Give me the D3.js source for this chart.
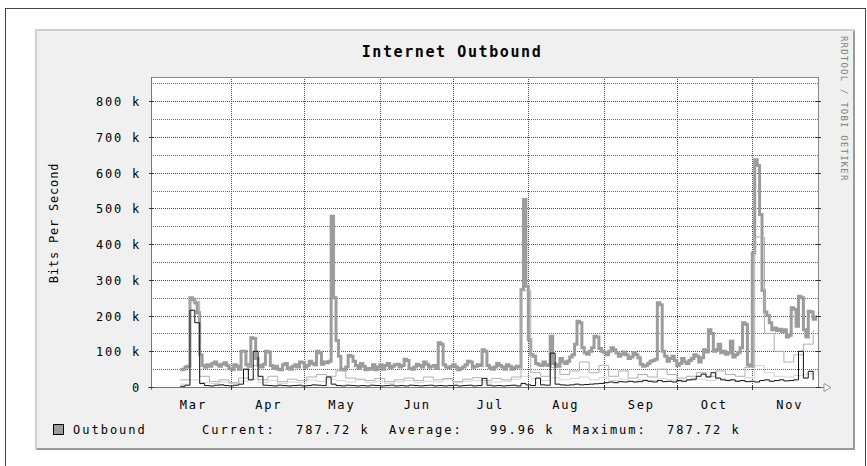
<!DOCTYPE html>
<html>
<head>
<meta charset="utf-8">
<script src="https://cdn.jsdelivr.net/npm/d3@7"></script>
<style>
  html, body { margin: 0; padding: 0; background: #fff; }
  svg { display: block; }
  text { font-family: "DejaVu Sans Mono", "Liberation Mono", monospace; fill: #000; }
</style>
</head>
<body>
<svg id="chart" width="867" height="466"></svg>
<script>
// ---- data (values in kbit/s) ----
const title = "Internet Outbound";
const yLabel = "Bits Per Second";
const months = ["Mar", "Apr", "May", "Jun", "Jul", "Aug", "Sep", "Oct", "Nov"];
const yTicks = [0, 100, 200, 300, 400, 500, 600, 700, 800];
const yTickLabels = ["0", "100 k", "200 k", "300 k", "400 k", "500 k", "600 k", "700 k", "800 k"];
const legendName = "Outbound";
const legendStats = ["Current:", "787.72 k", "Average:", "99.96 k", "Maximum:", "787.72 k"];

// first sample date; each series has its own spacing in days
const seriesStart = "2001-03-11";

// daily outbound rate
const outboundStep = 1;
const outbound = [
  48, 50, 56, 58, 250, 246, 235, 208, 90, 60,
  55, 62, 58, 66, 70, 62, 58, 64, 68, 60,
  52, 48, 62, 58, 50, 100, 100, 62, 58, 138,
  136, 80, 60, 56, 64, 100, 98, 60, 52, 58,
  50, 48, 62, 66, 54, 50, 58, 62, 56, 70,
  68, 55, 60, 72, 66, 62, 100, 96, 64, 70,
  68, 72, 478, 250, 130, 86, 50, 48, 56, 88,
  86, 72, 60, 52, 66, 58, 48, 52, 50, 62,
  48, 56, 62, 50, 60, 66, 54, 58, 62, 64,
  56, 60, 78, 74, 52, 50, 56, 64, 60, 56,
  70, 64, 55, 58, 60, 52, 124, 120, 62, 56,
  54, 58, 62, 56, 48, 52, 56, 62, 72, 70,
  55, 58, 62, 60, 104, 100, 60, 54, 50, 56,
  66, 60, 56, 50, 62, 58, 50, 54, 58, 56,
  272, 525, 282, 132, 90, 86, 66, 62, 60, 70,
  62, 60, 142, 66, 62, 58, 80, 70, 66, 72,
  84, 90, 120, 184, 180, 110, 96, 92, 100, 110,
  142, 140, 108, 100, 96, 90, 100, 110, 104, 95,
  86, 92, 98, 90, 80, 84, 96, 90, 82, 64,
  58, 60, 66, 72, 74, 78, 236, 230, 100, 86,
  72, 80, 86, 74, 60, 66, 80, 70, 66, 74,
  80, 90, 86, 70, 82, 104, 98, 160, 150, 100,
  104, 120, 96, 100, 92, 96, 128, 84, 90, 96,
  110, 180, 176, 62, 60, 375, 636, 620, 483, 270,
  210, 200, 180, 160, 165, 158, 162, 155, 160, 140,
  145, 222, 218, 170, 254, 250, 160, 140, 212, 210, 190, 200
];

// secondary traces, sampled every few days
const peakStep = 4;
const peak = [
  20, 240, 30, 15, 20, 12, 25, 60, 20, 30, 15, 22, 18, 28, 35, 30, 45, 25, 22, 18,
  24, 15, 20, 25, 18, 28, 20, 24, 15, 22, 26, 18, 24, 20, 28, 270, 40, 30, 55, 35,
  45, 70, 40, 60, 30, 45, 25, 35, 28, 50, 35, 25, 30, 40, 30, 45, 35, 30, 55, 420,
  150, 100, 70, 90, 120, 160
];

const lowStep = 4;
const low = [
  8, 20, 12, 10, 14, 9, 16, 22, 12, 18, 10, 14, 12, 20, 16, 22, 18, 14, 20, 12,
  16, 10, 14, 18, 12, 16, 14, 20, 12, 16, 18, 12, 14, 16, 22, 30, 24, 18, 26, 20,
  24, 28, 20, 26, 18, 22, 16, 20, 18, 24, 20, 16, 18, 22, 18, 24, 20, 18, 26, 60,
  40, 30, 28, 32, 36, 40
];

const coreStep = 2;
const core = [
  2, 5, 215, 180, 10, 4, 3, 5, 6, 4, 3, 5, 8, 50, 20, 100, 30, 5, 4, 3,
  5, 4, 3, 4, 5, 3, 4, 6, 5, 4, 28, 8, 4, 3, 5, 4, 3, 4, 3, 5,
  4, 3, 4, 5, 3, 4, 3, 5, 4, 3, 4, 5, 3, 4, 3, 4, 5, 3, 4, 5,
  3, 4, 24, 5, 3, 4, 3, 4, 5, 3, 10, 6, 4, 25, 6, 5, 95, 8, 6, 5,
  6, 8, 6, 7, 8, 9, 10, 12, 14, 12, 15, 14, 16, 14, 15, 18, 16, 14, 18, 15,
  16, 14, 18, 16, 20, 22, 30, 36, 28, 40, 25, 20, 18, 20, 16, 18, 15, 16, 14, 18,
  20, 16, 18, 20, 17, 18, 20, 100, 25, 44, 20
];

// ---- layout ----
const svg = d3.select("#chart");
const W = 867, H = 466;
const plot = { left: 151, right: 818, top: 77, bottom: 387 };

const x = d3.scaleUtc()
  .domain([new Date(Date.UTC(2001, 1, 27)), new Date(Date.UTC(2001, 10, 28))])
  .range([plot.left, plot.right]);
const y = d3.scaleLinear().domain([0, 868]).range([plot.bottom, plot.top]);

// page frame
svg.append("rect").attr("x", 0).attr("y", 0).attr("width", W).attr("height", H).attr("fill", "#fff");
svg.append("rect").attr("x", 5.5).attr("y", 8.5).attr("width", 860).attr("height", 470)
  .attr("fill", "none").attr("stroke", "#444").attr("stroke-width", 1);

// graph panel with bevelled edges
const panel = { x: 35, y: 29, w: 820, h: 421 };
svg.append("rect").attr("x", panel.x).attr("y", panel.y).attr("width", panel.w).attr("height", panel.h).attr("fill", "#f0f0f0");
svg.append("path")
  .attr("d", `M${panel.x + 1},${panel.y + panel.h} V${panel.y + 1} H${panel.x + panel.w}`)
  .attr("fill", "none").attr("stroke", "#d0d0d0").attr("stroke-width", 2);
svg.append("path")
  .attr("d", `M${panel.x + 2},${panel.y + panel.h - 1} H${panel.x + panel.w - 1} V${panel.y + 2}`)
  .attr("fill", "none").attr("stroke", "#9a9a9a").attr("stroke-width", 2);

// canvas
svg.append("rect").attr("x", plot.left).attr("y", plot.top)
  .attr("width", plot.right - plot.left).attr("height", plot.bottom - plot.top).attr("fill", "#fff");

// horizontal grid: minor every 50k, major every 100k
const gridG = svg.append("g").attr("shape-rendering", "crispEdges");
d3.range(50, 868, 50).forEach(v => {
  const major = v % 100 === 0;
  gridG.append("line")
    .attr("x1", plot.left).attr("x2", plot.right)
    .attr("y1", Math.round(y(v)) + 0.5).attr("y2", Math.round(y(v)) + 0.5)
    .attr("stroke", major ? "#4a4a4a" : "#6a6a6a")
    .attr("stroke-dasharray", "1,1");
});

// vertical grid at month starts
const monthStarts = d3.utcMonth.range(new Date(Date.UTC(2001, 3, 1)), new Date(Date.UTC(2001, 11, 1)));
monthStarts.forEach(d => {
  gridG.append("line")
    .attr("x1", Math.round(x(d)) + 0.5).attr("x2", Math.round(x(d)) + 0.5)
    .attr("y1", plot.top).attr("y2", plot.bottom)
    .attr("stroke", "#4a4a4a").attr("stroke-dasharray", "1,1");
});

// plot frame
svg.append("rect").attr("x", plot.left + 0.5).attr("y", plot.top + 0.5)
  .attr("width", plot.right - plot.left).attr("height", plot.bottom - plot.top)
  .attr("fill", "none").attr("stroke", "#888").attr("shape-rendering", "crispEdges");

// series
function points(values, step) {
  const t0 = new Date(seriesStart + "T00:00:00Z");
  return values.map((v, i) => [d3.utcDay.offset(t0, i * step), v]);
}
const line = d3.line().x(d => x(d[0])).y(d => y(d[1])).curve(d3.curveStepAfter);

const dataG = svg.append("g");
dataG.append("path").datum(points(low, lowStep)).attr("d", line)
  .attr("fill", "none").attr("stroke", "#d4d4d4").attr("stroke-width", 1);
dataG.append("path").datum(points(outbound, outboundStep)).attr("d", line)
  .attr("fill", "none").attr("stroke", "#9c9c9c").attr("stroke-width", 3);
dataG.append("path").datum(points(peak, peakStep)).attr("d", line)
  .attr("fill", "none").attr("stroke", "#b0b0b0").attr("stroke-width", 1);
dataG.append("path").datum(points(core, coreStep)).attr("d", line)
  .attr("fill", "none").attr("stroke", "#111").attr("stroke-width", 1);

// axes
const axG = svg.append("g").attr("shape-rendering", "crispEdges");
axG.append("line").attr("x1", plot.left - 3).attr("x2", plot.right + 10)
  .attr("y1", plot.bottom + 0.5).attr("y2", plot.bottom + 0.5).attr("stroke", "#777").attr("stroke-width", 1.5);
axG.append("line").attr("x1", plot.left + 0.5).attr("x2", plot.left + 0.5)
  .attr("y1", plot.top).attr("y2", plot.bottom + 3).attr("stroke", "#777").attr("stroke-width", 1.5);
// arrow at the end of the time axis
svg.append("path")
  .attr("d", `M${plot.right + 6},${plot.bottom - 3.5} L${plot.right + 13},${plot.bottom + 0.5} L${plot.right + 6},${plot.bottom + 4.5} Z`)
  .attr("fill", "#fff").attr("stroke", "#999");

// y ticks and labels
yTicks.forEach((v, i) => {
  const yy = Math.round(y(v)) + 0.5;
  axG.append("line").attr("x1", plot.left - 2).attr("x2", plot.left + 3).attr("y1", yy).attr("y2", yy).attr("stroke", "#333");
  axG.append("line").attr("x1", plot.right - 2).attr("x2", plot.right + 3).attr("y1", yy).attr("y2", yy).attr("stroke", "#333");
  svg.append("text").attr("x", 141).attr("y", yy + 4).attr("text-anchor", "end")
    .attr("font-size", 12).attr("letter-spacing", 1.8).text(yTickLabels[i]);
});
// x ticks at month starts
monthStarts.forEach(d => {
  const xx = Math.round(x(d)) + 0.5;
  axG.append("line").attr("x1", xx).attr("x2", xx).attr("y1", plot.bottom - 2).attr("y2", plot.bottom + 3).attr("stroke", "#333");
});

// month labels centred in each month
const labelDates = d3.utcMonth.range(new Date(Date.UTC(2001, 2, 1)), new Date(Date.UTC(2001, 11, 1)))
  .map(d => d3.utcDay.offset(d, 15));
labelDates.forEach((d, i) => {
  svg.append("text").attr("x", x(d) + 1).attr("y", 409).attr("text-anchor", "middle")
    .attr("font-size", 12).attr("letter-spacing", 1.8).text(months[i]);
});

// title and axis label
svg.append("text").attr("x", 452).attr("y", 57).attr("text-anchor", "middle")
  .attr("font-size", 15).attr("font-weight", "bold").attr("letter-spacing", 1.6).text(title);
svg.append("text").attr("transform", "translate(58,223) rotate(-90)").attr("text-anchor", "middle")
  .attr("font-size", 12).attr("letter-spacing", 0.8).text(yLabel);

// vertical credit text
svg.append("text").attr("transform", "translate(841,36) rotate(90)")
  .attr("font-size", 9).attr("letter-spacing", 1.2).style("fill", "#808080").text("RRDTOOL / TOBI OETIKER");

// legend
svg.append("rect").attr("x", 53.5).attr("y", 424.5).attr("width", 10).attr("height", 10)
  .attr("fill", "#9c9c9c").attr("stroke", "#000");
svg.append("text").attr("x", 73).attr("y", 434).attr("font-size", 12).attr("letter-spacing", 2).text(legendName);
const statX = [202, 296, 389, 490, 573, 667];
legendStats.forEach((s, i) => {
  svg.append("text").attr("x", statX[i]).attr("y", 434).attr("font-size", 12).attr("letter-spacing", 2).text(s);
});
</script>
</body>
</html>
